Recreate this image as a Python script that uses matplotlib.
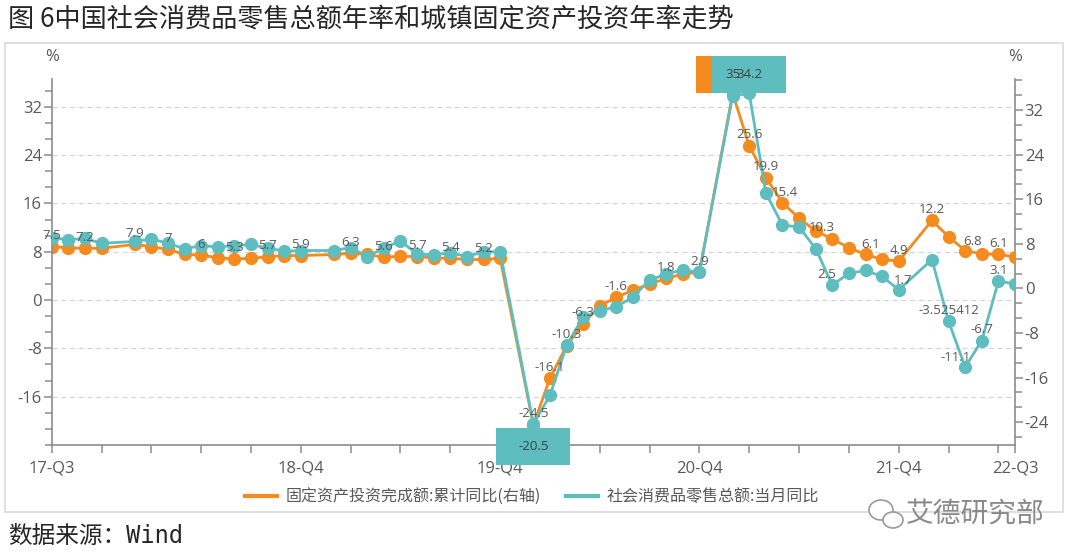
import matplotlib
matplotlib.use("Agg")
import matplotlib.pyplot as plt
import matplotlib.transforms as mtransforms
from matplotlib.ticker import FixedLocator, MultipleLocator
from matplotlib.offsetbox import DrawingArea, AnnotationBbox
from matplotlib.patches import Rectangle, Ellipse
from matplotlib.lines import Line2D

plt.rcParams["axes.unicode_minus"] = False

# ---------------- data ----------------
months = [
    "2017-09", "2017-10", "2017-11", "2017-12",
    "2018-02", "2018-03", "2018-04", "2018-05", "2018-06", "2018-07", "2018-08",
    "2018-09", "2018-10", "2018-11", "2018-12",
    "2019-02", "2019-03", "2019-04", "2019-05", "2019-06", "2019-07", "2019-08",
    "2019-09", "2019-10", "2019-11", "2019-12",
    "2020-02", "2020-03", "2020-04", "2020-05", "2020-06", "2020-07", "2020-08",
    "2020-09", "2020-10", "2020-11", "2020-12",
    "2021-02", "2021-03", "2021-04", "2021-05", "2021-06", "2021-07", "2021-08",
    "2021-09", "2021-10", "2021-11", "2021-12",
    "2022-02", "2022-03", "2022-04", "2022-05", "2022-06", "2022-07",
]
# 社会消费品零售总额:当月同比 (left axis)
retail_yoy = [
    10.3, 10.0, 10.2, 9.4,
    9.7, 10.1, 9.4, 8.5, 9.0, 8.8, 9.0, 9.2, 8.6, 8.1, 8.2,
    8.2, 8.7, 7.2, 8.6, 9.8, 7.6, 7.5, 7.8, 7.2, 8.0, 8.0,
    -20.5, -15.8, -7.5, -2.8, -1.8, -1.1, 0.5, 3.3, 4.3, 5.0, 4.6,
    33.8, 34.2, 17.7, 12.4, 12.1, 8.5, 2.5, 4.4, 4.9, 3.9, 1.7,
    6.7, -3.525412, -11.1, -6.7, 3.1, 2.7,
]
# 固定资产投资完成额:累计同比 (right axis)
fai_cum_yoy = [
    7.5, 7.3, 7.2, 7.2,
    7.9, 7.5, 7.0, 6.1, 6.0, 5.5, 5.3, 5.4, 5.7, 5.9, 5.9,
    6.1, 6.3, 6.1, 5.6, 5.8, 5.7, 5.5, 5.4, 5.2, 5.2, 5.4,
    -24.5, -16.1, -10.3, -6.3, -3.1, -1.6, -0.3, 0.8, 1.8, 2.6, 2.9,
    35.0, 25.6, 19.9, 15.4, 12.6, 10.3, 8.9, 7.3, 6.1, 5.2, 4.9,
    12.2, 9.3, 6.8, 6.2, 6.1, 5.7,
]
x_tick_text = {"2017-09": "17-Q3", "2018-12": "18-Q4", "2019-12": "19-Q4",
               "2020-12": "20-Q4", "2021-12": "21-Q4", "2022-07": "22-Q3"}
fai_labeled = ["2017-09", "2017-11", "2018-02", "2018-04", "2018-06", "2018-08",
               "2018-10", "2018-12", "2019-03", "2019-05", "2019-07", "2019-09",
               "2019-11", "2020-02", "2020-03", "2020-04", "2020-05", "2020-07",
               "2020-10", "2020-12", "2021-03", "2021-04", "2021-05", "2021-07",
               "2021-10", "2021-12", "2022-02", "2022-04", "2022-06"]
retail_labeled = ["2021-08", "2021-12", "2022-03", "2022-04", "2022-05", "2022-06"]
fai_name = "固定资产投资完成额:累计同比(右轴)"
retail_name = "社会消费品零售总额:当月同比"

# ---------------- style ----------------
ORANGE = "#F58A1F"
TEAL = "#5EBDBE"
AXC = "#8c8c8c"
TXT = "#595959"
CJK = ["Noto Sans CJK SC", "DejaVu Sans"]
NUM = "Open Sans"
W, H = 1080, 560


def midx(s):
    y, m = map(int, s.split("-"))
    return (y - 2017) * 12 + m - 9


def fmt(v):
    s = repr(float(v))
    return s[:-2] if s.endswith(".0") else s


x = [midx(s) for s in months]
first, last = midx(months[0]), midx(months[-1])

fig = plt.figure(figsize=(W / 100, H / 100), dpi=100)
fig.patch.set_facecolor("white")

L, R, B, T = 51.7, 1015, 445, 79
ax = fig.add_axes([L / W, 1 - B / H, (R - L) / W, (B - T) / H])
ax2 = ax.twinx()
ax.set_zorder(ax2.get_zorder() + 1)
ax.patch.set_visible(False)

ax.set_xlim(first, last)
ax.set_ylim(-24.0, 36.6)
ax2.set_ylim(-28.1, 37.6)

# grid (drawn in ax2 so it sits beneath both series), following left axis ticks
left_major = [-16, -8, 0, 8, 16, 24, 32]
blend = mtransforms.blended_transform_factory(ax2.transAxes, ax.transData)
for v in left_major:
    ax2.plot([0, 1], [v, v], transform=blend, color="#d6d6d6", lw=0.9,
             ls=(0, (4, 3)), zorder=0.5)

ax2.plot(x, fai_cum_yoy, color=ORANGE, lw=2, marker="o", ms=8.5, zorder=3)
ax.plot(x, retail_yoy, color=TEAL, lw=2, marker="o", ms=8.5, zorder=3)

# axes styling
for a in (ax, ax2):
    for sp in a.spines.values():
        sp.set_color(AXC)
        sp.set_linewidth(1.2)
    a.spines["top"].set_visible(False)
ax.spines["right"].set_visible(False)
ax2.spines["left"].set_visible(False)
ax2.spines["bottom"].set_visible(False)

ax.yaxis.set_major_locator(FixedLocator(left_major))
ax.yaxis.set_minor_locator(MultipleLocator(8 / 3))
ax2.yaxis.set_major_locator(FixedLocator([-24, -16, -8, 0, 8, 16, 24, 32]))
ax2.yaxis.set_minor_locator(MultipleLocator(8 / 3))

xt = list(range(first, last, 3)) + [last]
ax.xaxis.set_major_locator(FixedLocator(xt))
lab_by_idx = {midx(k): v for k, v in x_tick_text.items()}
ax.set_xticklabels([lab_by_idx.get(t, "") for t in xt])

for a in (ax, ax2):
    a.tick_params(which="both", direction="out", color=AXC, width=1.1,
                  labelcolor=TXT, labelsize=12)
    a.tick_params(which="major", length=6)
    a.tick_params(which="minor", length=5)
ax.tick_params(axis="x", pad=5)
ax.tick_params(axis="y", pad=1)
ax2.tick_params(axis="y", pad=1)
for t in ax.get_xticklabels() + ax.get_yticklabels() + ax2.get_yticklabels():
    t.set_fontfamily(NUM)


# data labels
def put_label(trans, xi, v, dx=0, dy=11):
    ax.annotate(fmt(v), xy=(xi, v), xycoords=trans, xytext=(dx, dy),
                textcoords="offset pixels", ha="center", va="center",
                fontsize=9.5, color=TXT, family=NUM, zorder=7,
                annotation_clip=False)


nudge_fai = {"2021-07": (6, 4), "2021-10": (5, 10), "2022-04": (7, 9),
             "2021-05": (2, 10)}
nudge_ret = {"2021-08": (-6, 10), "2021-12": (4, 9), "2022-04": (-10, 10)}
for s, v in zip(months, fai_cum_yoy):
    if s in fai_labeled:
        dx, dy = nudge_fai.get(s, (0, 11))
        put_label(ax2.transData, midx(s), v, dx, dy)
for s, v in zip(months, retail_yoy):
    if s in retail_labeled:
        dx, dy = nudge_ret.get(s, (0, 11))
        put_label(ax.transData, midx(s), v, dx, dy)

# highlighted extreme value boxes
PT = 0.72  # points per pixel at 100 dpi
BW, BH = 74, 37


def box(trans, xi, v, color, above, tdx=0):
    da = DrawingArea(BW * PT, BH * PT, 0, 0)
    da.add_artist(Rectangle((0, 0), BW * PT, BH * PT, fc=color, ec="none"))
    ab = AnnotationBbox(da, (xi, v), xycoords=trans,
                        xybox=(0, (0 if above else -4) * PT),
                        boxcoords="offset points",
                        box_alignment=(0.5, 0 if above else 1),
                        frameon=False, pad=0, zorder=5, annotation_clip=False)
    ax.add_artist(ab)
    dy = BH / 2 if above else -4 - BH / 2
    ax.annotate(fmt(v), xy=(xi, v), xycoords=trans, xytext=(tdx, dy),
                textcoords="offset pixels", ha="center", va="center",
                fontsize=9.5, color="#404040", family=NUM, zorder=8,
                annotation_clip=False)


i_fmax = fai_cum_yoy.index(max(fai_cum_yoy))
i_rmax = retail_yoy.index(max(retail_yoy))
i_rmin = retail_yoy.index(min(retail_yoy))
box(ax2.transData, x[i_fmax], fai_cum_yoy[i_fmax], ORANGE, True)
box(ax.transData, x[i_rmax], retail_yoy[i_rmax], TEAL, True)
box(ax.transData, x[i_rmin], retail_yoy[i_rmin], TEAL, False)

# unit labels
fig.text(L / W, 1 - 57 / H, "%", ha="center", va="center", fontsize=12,
         color=TXT, family=NUM)
fig.text(R / W, 1 - 57 / H, "%", ha="center", va="center", fontsize=12,
         color=TXT, family=NUM)

# legend
handles = [Line2D([], [], color=ORANGE, lw=3), Line2D([], [], color=TEAL, lw=3)]
fig.legend(handles, [fai_name, retail_name], loc="center",
           bbox_to_anchor=(532 / W, 1 - 497 / H), ncol=2, frameon=False,
           prop={"family": CJK, "size": 11.5}, labelcolor=TXT,
           handlelength=2.0, handletextpad=0.5, columnspacing=1.6)

# frame around the chart
fig.add_artist(Rectangle((5 / W, 1 - 512 / H), 1058 / W, 469 / H,
                         transform=fig.transFigure, fill=False,
                         ec="#dcdcdc", lw=1.3))

# title and source
fig.text(8 / W, 1 - 19 / H, "图 6中国社会消费品零售总额年率和城镇固定资产投资年率走势",
         ha="left", va="center", fontsize=18.8, color="#262626", family=CJK)
fig.text(8 / W, 1 - 536 / H, "数据来源：Wind", ha="left", va="center",
         fontsize=17, color="#262626",
         family=["DejaVu Sans Mono", "Noto Sans CJK SC"])

# watermark
fig.add_artist(Ellipse((881 / W, 1 - 510 / H), 24 / W, 20 / H,
                       transform=fig.transFigure, fill=True, fc="white",
                       ec="#9a9a9a", lw=1.2))
fig.add_artist(Ellipse((893 / W, 1 - 520 / H), 20 / W, 16 / H,
                       transform=fig.transFigure, fill=True, fc="white",
                       ec="#9a9a9a", lw=1.2))
fig.text(906 / W, 1 - 515 / H, "艾德研究部", ha="left", va="center",
         fontsize=20, color="#8a8a8a", family=CJK)

fig.savefig("out.png", dpi=100, facecolor="white")
